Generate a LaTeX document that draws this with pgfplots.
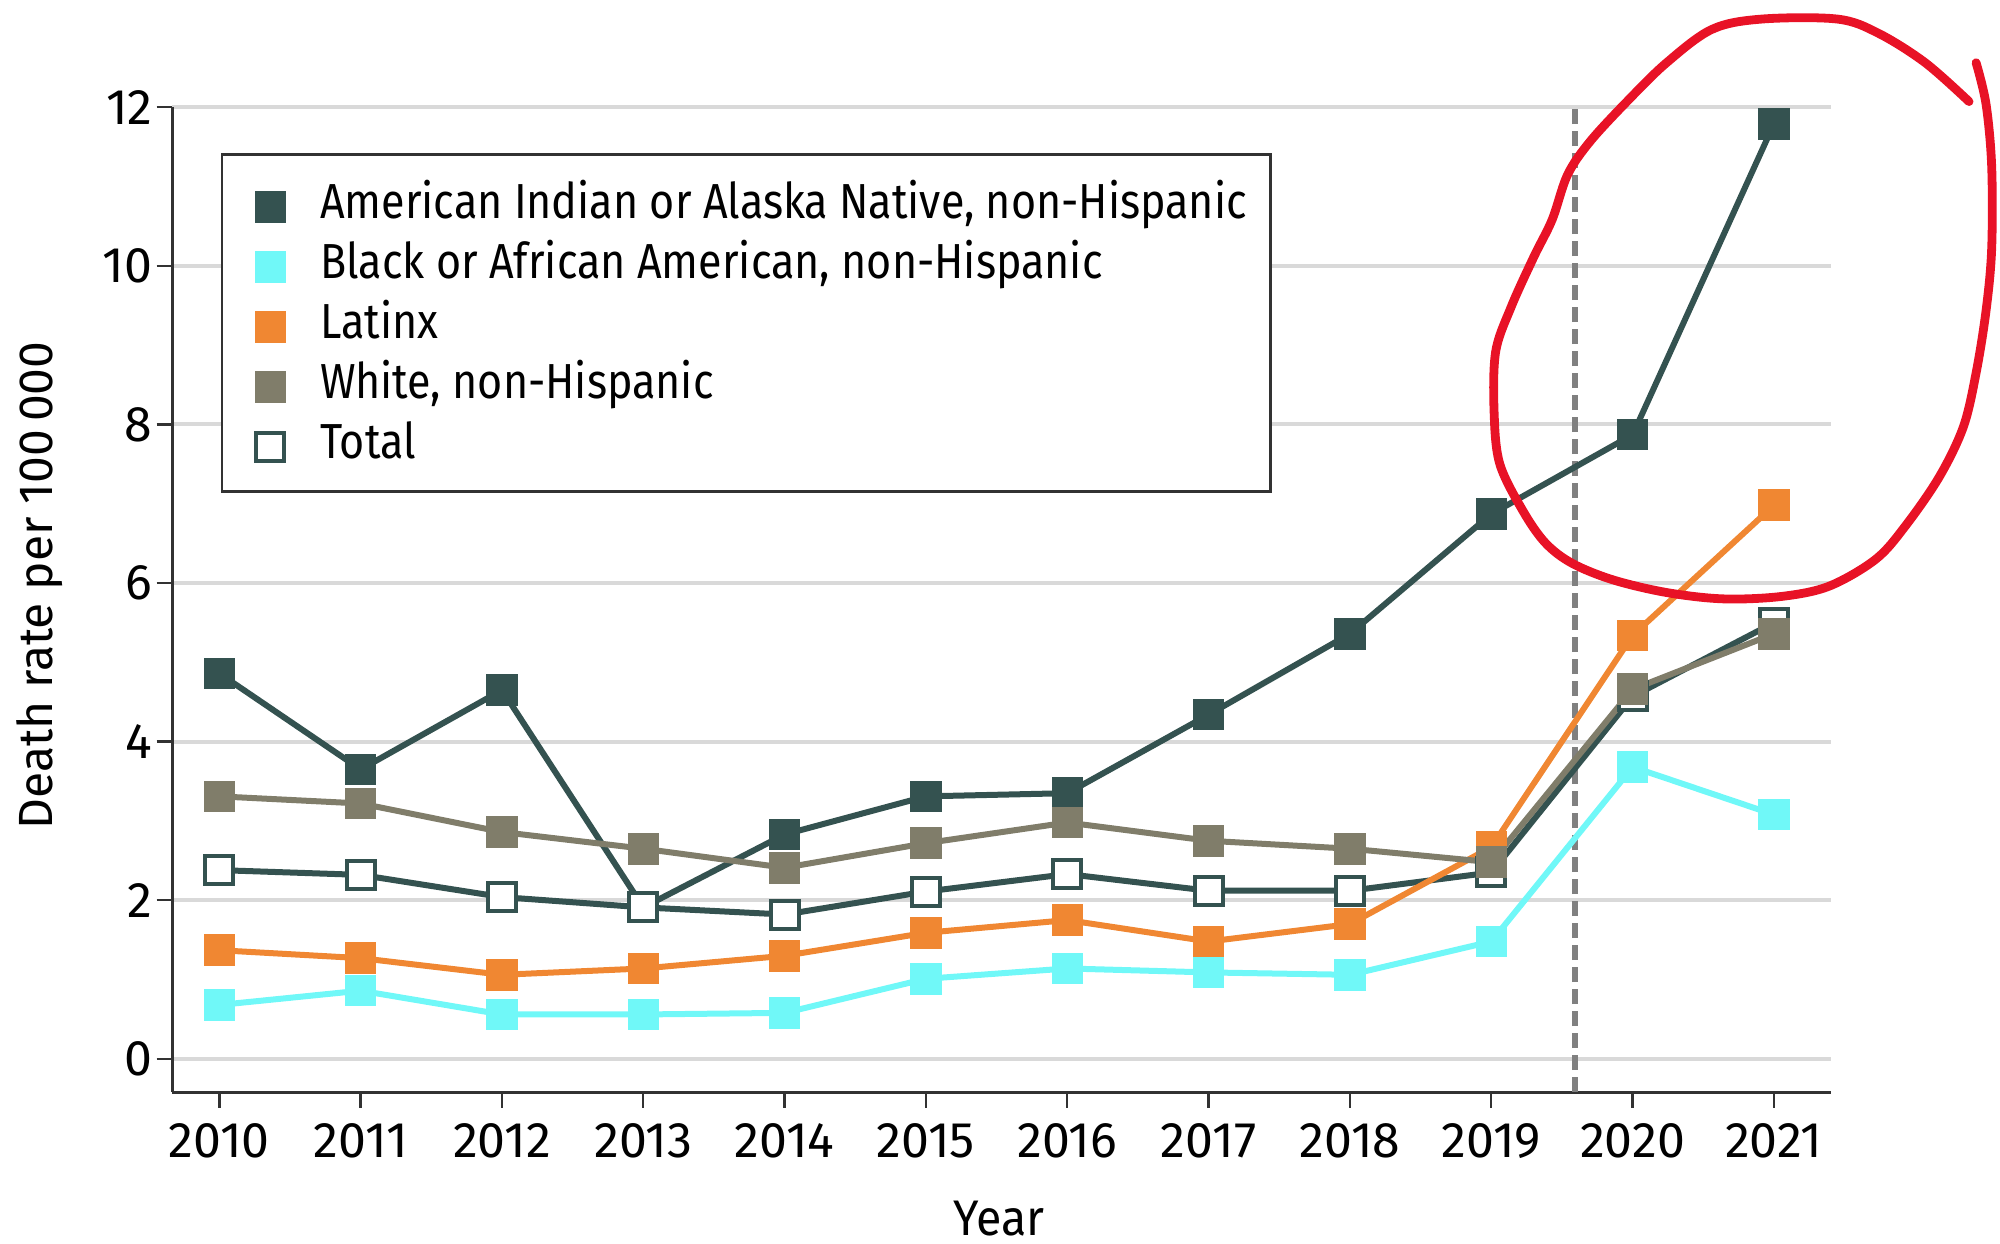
\documentclass[border=0pt]{standalone}
\usepackage{fontspec}
\setmainfont{Fira Sans}
\newfontfamily\legfont{Fira Sans}[FakeStretch=0.875]
\newfontfamily\labfont{Fira Sans}[FakeStretch=0.93]
\usepackage{pgfplots}
\usepackage{pgfplotstable}
\pgfplotsset{compat=1.18}
\definecolor{aian}{RGB}{52,82,80}
\definecolor{blk}{RGB}{112,248,248}
\definecolor{lat}{RGB}{240,135,50}
\definecolor{wht}{RGB}{128,125,106}
\definecolor{annot}{RGB}{232,18,38}
\definecolor{gridc}{RGB}{217,217,217}
\definecolor{dashc}{RGB}{128,128,128}
\definecolor{axc}{RGB}{50,50,50}

\pgfplotstableread{
year aian black latinx white total
2010 4.86 0.68 1.37 3.31 2.38
2011 3.65 0.86 1.27 3.22 2.32
2012 4.65 0.56 1.06 2.86 2.04
2013 1.91 0.56 1.14 2.65 1.91
2014 2.83 0.58 1.30 2.41 1.82
2015 3.31 1.01 1.59 2.72 2.11
2016 3.35 1.14 1.75 2.98 2.33
2017 4.34 1.09 1.48 2.75 2.12
2018 5.36 1.06 1.70 2.65 2.12
2019 6.87 1.48 2.67 2.48 2.35
2020 7.87 3.68 5.34 4.66 4.57
2021 11.79 3.08 6.98 5.36 5.50
}\data

\begin{document}
\begin{tikzpicture}
\begin{axis}[
  x=35.33pt, y=19.826pt,
  xmin=2009.666, xmax=2021.4, ymin=-0.42, ymax=12,
  axis x line*=bottom, axis y line*=left,
  axis line style={draw=axc, line width=0.7pt},
  tick align=outside, major tick length=3.9pt,
  tick style={draw=axc, line width=0.6pt},
  xtick={2010,...,2021}, ytick={0,2,...,12},
  /pgf/number format/1000 sep={},
  /pgf/number format/assume math mode=true,
  ymajorgrids, grid style={draw=gridc, line width=1pt},
  tick label style={font=\fontsize{12.5}{14}\selectfont},
  xticklabel style={anchor=north, inner sep=0pt, yshift=-3.8pt},
  yticklabel style={anchor=east, inner sep=0pt, xshift=-0.8pt},
  clip=false,
  xlabel={Year}, ylabel={Death rate per 100\,000},
  every axis x label/.style={at={(axis description cs:0.4985,-0.1451)}, anchor=base, font=\labfont\fontsize{12.5}{14}\selectfont},
  every axis y label/.style={at={(axis description cs:-0.08,0.5143)}, anchor=center, rotate=90, font=\fontsize{12}{14}\selectfont},
  legend cell align=left,
  legend style={at={(axis description cs:0.02923,0.9534)}, anchor=north west,
    draw=axc, line width=0.7pt, fill=white,
    inner xsep=6pt, inner ysep=6.1pt, row sep=3pt, column sep=8.4pt,
    font=\legfont\fontsize{12.3}{14}\selectfont,
    nodes={inner sep=0pt, text height=10pt, text depth=2pt}},
  legend image code/.code={\draw[#1, only marks] plot coordinates {(0pt,-1pt)}; \path[draw=none, fill=none] (-6.1pt,0pt) -- (4pt,0pt);},
]
% reference line
\addplot[forget plot, dashc, line width=1.5pt, dash pattern=on 3.8pt off 1.7pt] coordinates {(2019.59,-0.42) (2019.59,12)};
% data
\addplot[forget plot, aian, line width=1.5pt, mark=square*, mark size=3.7pt, mark options={draw=aian, fill=aian, line width=0.5pt, solid}] table[x=year, y=aian]{\data};
\addplot[forget plot, aian, line width=1.5pt, mark=square*, mark size=3.5pt, mark options={draw=aian, fill=white, line width=1pt, solid}] table[x=year, y=total]{\data};
\addplot[forget plot, blk, line width=1.5pt, mark=square*, mark size=3.7pt, mark options={draw=blk, fill=blk, line width=0.5pt, solid}] table[x=year, y=black]{\data};
\addplot[forget plot, lat, line width=1.5pt, mark=square*, mark size=3.7pt, mark options={draw=lat, fill=lat, line width=0.5pt, solid}] table[x=year, y=latinx]{\data};
\addplot[forget plot, wht, line width=1.5pt, mark=square*, mark size=3.7pt, mark options={draw=wht, fill=wht, line width=0.5pt, solid}] table[x=year, y=white]{\data};
% legend
\addlegendimage{mark=square*, mark size=3.7pt, mark options={draw=aian, fill=aian, line width=0.5pt}}
\addlegendentry{American Indian or Alaska Native, non-Hispanic}
\addlegendimage{mark=square*, mark size=3.7pt, mark options={draw=blk, fill=blk, line width=0.5pt}}
\addlegendentry{Black or African American, non-Hispanic}
\addlegendimage{mark=square*, mark size=3.7pt, mark options={draw=lat, fill=lat, line width=0.5pt}}
\addlegendentry{Latinx}
\addlegendimage{mark=square*, mark size=3.7pt, mark options={draw=wht, fill=wht, line width=0.5pt}}
\addlegendentry{White, non-Hispanic}
\addlegendimage{mark=square*, mark size=3.5pt, mark options={draw=aian, fill=white, line width=1pt}}
\addlegendentry{Total}
% hand-drawn annotation
\addplot[forget plot, annot, line width=2.2pt, smooth, tension=0.55, line cap=round, line join=round, no marks] coordinates {
(2022.43,12.56) (2022.50,12.04) (2022.54,11.26) (2022.54,10.21) (2022.50,9.43) (2022.43,8.65)
(2022.34,7.97) (2022.17,7.34) (2021.93,6.72) (2021.72,6.30) (2021.39,5.96) (2021.05,5.83)
(2020.64,5.80) (2020.24,5.88) (2019.86,6.04) (2019.57,6.25) (2019.38,6.51) (2019.22,6.92)
(2019.06,7.50) (2019.02,8.13) (2019.03,8.91) (2019.14,9.48) (2019.30,10.11) (2019.43,10.58)
(2019.54,11.15) (2019.70,11.57) (2019.97,12.09) (2020.24,12.56) (2020.56,12.98) (2020.91,13.11)
(2021.45,13.11) (2021.74,12.93) (2022.07,12.56) (2022.38,12.07)};
\coordinate (bbSW) at (axis cs:2008.448,-2.332);
\coordinate (bbNE) at (axis cs:2022.599,13.351);
\end{axis}
\pgfresetboundingbox
\useasboundingbox (bbSW) rectangle (bbNE);
\end{tikzpicture}
\end{document}
